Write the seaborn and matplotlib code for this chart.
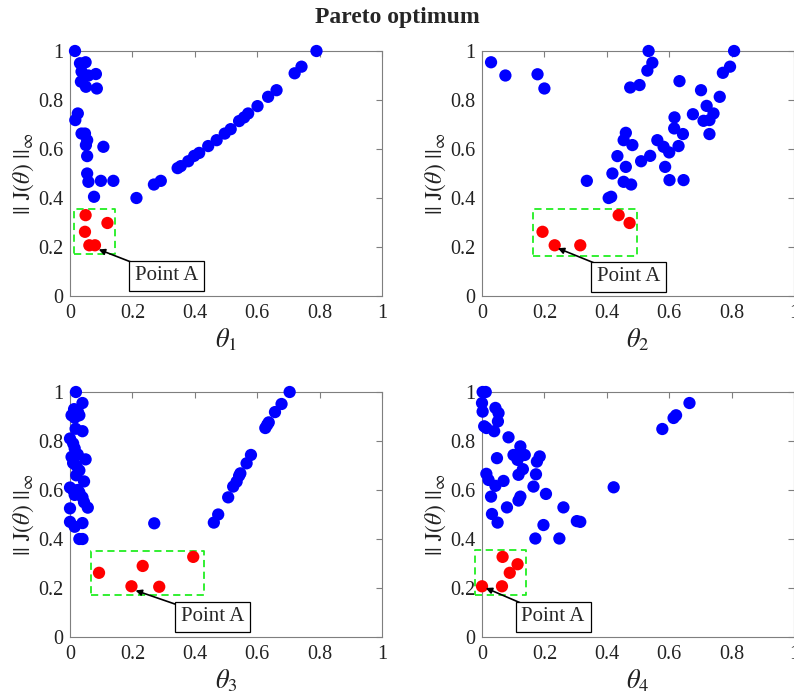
import matplotlib
matplotlib.use("Agg")
import matplotlib.pyplot as plt
import seaborn as sns
import pandas as pd

# ---------------- data ----------------
t1_blue_x = [0.016, 0.032, 0.05, 0.037, 0.035, 0.059, 0.083, 0.051, 0.086, 0.025, 0.017, 0.037, 0.048,
             0.055, 0.051, 0.107, 0.055, 0.055, 0.059, 0.099, 0.139, 0.077, 0.213, 0.269, 0.291,
             0.345, 0.355, 0.379, 0.398, 0.414, 0.443, 0.47, 0.496, 0.515, 0.542, 0.558, 0.571,
             0.601, 0.635, 0.662, 0.72, 0.742, 0.79]
t1_blue_y = [1.0, 0.95, 0.954, 0.916, 0.875, 0.90, 0.906, 0.854, 0.847, 0.745, 0.718, 0.663, 0.663,
             0.636, 0.616, 0.609, 0.571, 0.5, 0.466, 0.47, 0.47, 0.405, 0.40, 0.455, 0.47,
             0.522, 0.53, 0.55, 0.572, 0.584, 0.612, 0.636, 0.663, 0.681, 0.714, 0.729, 0.745,
             0.775, 0.813, 0.84, 0.909, 0.936, 1.0]
t1_red_x = [0.05, 0.048, 0.062, 0.08, 0.12]
t1_red_y = [0.33, 0.262, 0.207, 0.207, 0.298]

t2_blue_x = [0.029, 0.075, 0.178, 0.20, 0.534, 0.546, 0.53, 0.475, 0.505, 0.808, 0.795, 0.772, 0.633,
             0.702, 0.762, 0.72, 0.676, 0.742, 0.729, 0.71, 0.617, 0.616, 0.644, 0.729, 0.63, 0.562,
             0.582, 0.60, 0.539, 0.51, 0.587, 0.601, 0.646, 0.461, 0.454, 0.482, 0.434, 0.461, 0.418,
             0.454, 0.478, 0.336, 0.406, 0.414]
t2_blue_y = [0.954, 0.90, 0.905, 0.847, 1.0, 0.952, 0.92, 0.851, 0.861, 1.0, 0.936, 0.911, 0.877,
             0.84, 0.813, 0.776, 0.742, 0.745, 0.718, 0.715, 0.729, 0.684, 0.661, 0.661, 0.612, 0.636,
             0.609, 0.586, 0.572, 0.55, 0.527, 0.473, 0.473, 0.666, 0.636, 0.616, 0.571, 0.527, 0.5,
             0.466, 0.455, 0.47, 0.40, 0.405]
t2_red_x = [0.194, 0.233, 0.315, 0.438, 0.473]
t2_red_y = [0.262, 0.207, 0.207, 0.33, 0.298]

t3_blue_x = [0.019, 0.04, 0.013, 0.025, 0.005, 0.03, 0.015, 0.018, 0.04, 0.0, 0.01, 0.015, 0.025,
             0.005, 0.05, 0.01, 0.02, 0.03, 0.02, 0.045, 0.0, 0.01, 0.025, 0.03, 0.015, 0.04, 0.045,
             0.057, 0.0, 0.0, 0.015, 0.04, 0.03, 0.04, 0.27,
             0.461, 0.475, 0.507, 0.523, 0.534, 0.542, 0.546, 0.566, 0.58, 0.626, 0.632, 0.637,
             0.657, 0.678, 0.704]
t3_blue_y = [1.0, 0.955, 0.93, 0.92, 0.905, 0.905, 0.895, 0.85, 0.84, 0.81, 0.79, 0.77, 0.745,
             0.735, 0.725, 0.71, 0.70, 0.68, 0.66, 0.635, 0.61, 0.60, 0.60, 0.59, 0.58, 0.57, 0.55,
             0.528, 0.525, 0.47, 0.45, 0.465, 0.40, 0.40, 0.464,
             0.467, 0.50, 0.57, 0.614, 0.634, 0.658, 0.668, 0.709, 0.743, 0.853, 0.866, 0.876,
             0.918, 0.951, 1.0]
t3_red_x = [0.093, 0.197, 0.233, 0.286, 0.395]
t3_red_y = [0.262, 0.207, 0.29, 0.205, 0.327]

t4_blue_x = [0.002, 0.012, 0.0, 0.002, 0.007, 0.014, 0.043, 0.053, 0.051, 0.039, 0.085, 0.101, 0.117,
             0.123, 0.114, 0.137, 0.131, 0.117, 0.176, 0.185, 0.048, 0.014, 0.021, 0.043, 0.069,
             0.029, 0.032, 0.05, 0.08, 0.117, 0.123, 0.165, 0.173, 0.205, 0.261, 0.197, 0.171,
             0.248, 0.304, 0.315, 0.422, 0.578, 0.614, 0.622, 0.665]
t4_blue_y = [1.0, 1.0, 0.955, 0.92, 0.86, 0.853, 0.935, 0.914, 0.88, 0.84, 0.815, 0.743, 0.746,
             0.778, 0.723, 0.743, 0.685, 0.662, 0.716, 0.737, 0.73, 0.666, 0.641, 0.617, 0.637,
             0.573, 0.502, 0.467, 0.529, 0.557, 0.573, 0.614, 0.664, 0.584, 0.529, 0.457, 0.402,
             0.402, 0.473, 0.47, 0.611, 0.849, 0.894, 0.905, 0.955]
t4_red_x = [0.0, 0.064, 0.066, 0.089, 0.114]
t4_red_y = [0.207, 0.207, 0.327, 0.262, 0.297]

x_labels = [r"$\theta_1$", r"$\theta_2$", r"$\theta_3$", r"$\theta_4$"]
y_label = r"$||\ \mathrm{J}(\theta)\ ||_{\infty}$"
title = "Pareto optimum"
annot_text = "Point A"
tick_vals = [0, 0.2, 0.4, 0.6, 0.8, 1]

# ---------------- style ----------------
sns.set_style("white")
plt.rcParams["font.family"] = ["Liberation Serif", "DejaVu Serif"]
plt.rcParams["mathtext.fontset"] = "stix"

W, H = 794, 699
fig = plt.figure(figsize=(W / 100, H / 100), dpi=100)

ax_w, ax_h = 312 / W, 245 / H
positions = [(70 / W, 1 - 296 / H), (482 / W, 1 - 296 / H),
             (70 / W, 1 - 637 / H), (482 / W, 1 - 637 / H)]

panels = [
    (t1_blue_x, t1_blue_y, t1_red_x, t1_red_y),
    (t2_blue_x, t2_blue_y, t2_red_x, t2_red_y),
    (t3_blue_x, t3_blue_y, t3_red_x, t3_red_y),
    (t4_blue_x, t4_blue_y, t4_red_x, t4_red_y),
]

# annotation geometry per panel: (box x0, box y0, box x1, box y1), arrow tip, text center
boxes = [(0.013, 0.17, 0.144, 0.357), (0.162, 0.163, 0.498, 0.357),
         (0.066, 0.17, 0.43, 0.353), (-0.021, 0.173, 0.142, 0.355)]
tips = [(0.092, 0.19), (0.243, 0.195), (0.21, 0.19), (0.012, 0.2)]
texts = [(0.31, 0.082), (0.47, 0.078), (0.456, 0.082), (0.228, 0.082)]

spine_col = "#7f7f7f"
for i, (bx, by, rx, ry) in enumerate(panels):
    ax = fig.add_axes([positions[i][0], positions[i][1], ax_w, ax_h])
    dfb = pd.DataFrame({"x": bx, "y": by})
    dfr = pd.DataFrame({"x": rx, "y": ry})
    sns.scatterplot(data=dfb, x="x", y="y", ax=ax, color="#0000ff", s=78,
                    edgecolor="none", linewidth=0, clip_on=False, zorder=3)
    sns.scatterplot(data=dfr, x="x", y="y", ax=ax, color="#ff0000", s=78,
                    edgecolor="none", linewidth=0, clip_on=False, zorder=3)
    x0, y0, x1, y1 = boxes[i]
    ax.plot([x0, x1, x1, x0, x0], [y0, y0, y1, y1, y0], color="#22ee22",
            linestyle=(0, (4, 2.5)), linewidth=1.3, zorder=2, clip_on=False)
    ax.annotate("", xy=tips[i], xytext=texts[i], textcoords="data",
                arrowprops=dict(arrowstyle="-|>", color="black", lw=1.2,
                                mutation_scale=9, shrinkA=0, shrinkB=0,
                                patchA=None),
                zorder=4)
    ax.text(texts[i][0], texts[i][1], annot_text, ha="center", va="center",
            fontsize=15, zorder=5,
            bbox=dict(boxstyle="square,pad=0.28", facecolor="white",
                      edgecolor="black", linewidth=0.9))
    ax.set_xlim(0, 1)
    ax.set_ylim(0, 1)
    ax.set_xticks(tick_vals)
    ax.set_yticks(tick_vals)
    ax.set_xticklabels([f"{v:g}" for v in tick_vals])
    ax.set_yticklabels([f"{v:g}" for v in tick_vals])
    ax.tick_params(direction="in", top=True, right=True, length=4, width=0.8,
                   color=spine_col, labelsize=14.5, labelcolor="#222222")
    ax.tick_params(axis="x", pad=6)
    ax.tick_params(axis="y", pad=5)
    for sp in ax.spines.values():
        sp.set_color(spine_col)
        sp.set_linewidth(0.8)
    ax.set_xlabel(x_labels[i], fontsize=19, color="#222222", labelpad=2)
    ax.set_ylabel(y_label, fontsize=17, color="#222222", labelpad=1)

fig.text(0.5, 1 - 17 / H, title, ha="center", va="center", fontsize=17,
         fontweight="bold")

fig.savefig("out.png", dpi=100)
